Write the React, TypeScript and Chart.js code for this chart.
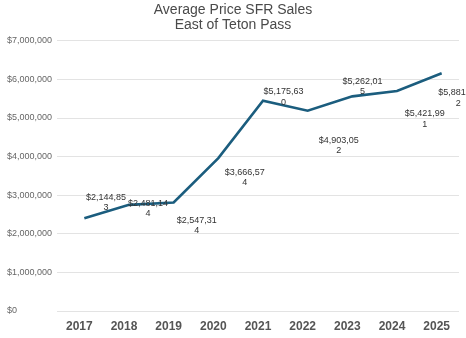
import React, { useEffect, useRef } from 'react';
import { Chart, registerables } from 'chart.js';

Chart.register(...registerables);

// ---- data ----
const years = ['2017', '2018', '2019', '2020', '2021', '2022', '2023', '2024', '2025'];
const avgPrice = [2400000, 2750000, 2810000, 3960000, 5450000, 5190000, 5560000, 5700000, 6160000];
const labelValues = [2144853, 2481144, 2547314, 3666574, 5175630, 4903052, 5262015, 5421991, 5881962];
const titleLines = ['Average Price SFR Sales', 'East of Teton Pass'];
const yMax = 7000000;
const yStep = 1000000;

// ---- label placement (pixel offsets from each line point) ----
const labelDx = [21.7, 19, 23, 26.4, 20.6, 31, 10.2, 27.7, 16.6];
const labelDy = [-20.8, -1.7, 17.8, 14.2, -8.7, 29.7, -14.7, 23, 19.5];
const LINE_SHIFT = 5;
const FONT = '"Liberation Sans", Arial, sans-serif';

const fmt = (v: number) => '$' + Math.round(v).toLocaleString('en-US');

const shiftPlugin = {
  id: 'lineShift',
  beforeDatasetsDraw(chart: any) {
    chart.ctx.save();
    chart.ctx.translate(LINE_SHIFT, 0);
  },
  afterDatasetsDraw(chart: any) {
    chart.ctx.restore();
  },
};

const labelPlugin = {
  id: 'valueLabels',
  afterDraw(chart: any) {
    const meta = chart.getDatasetMeta(0);
    const ctx = chart.ctx;
    ctx.save();
    ctx.font = `9px ${FONT}`;
    ctx.fillStyle = '#333333';
    ctx.textAlign = 'center';
    ctx.textBaseline = 'middle';
    labelValues.forEach((v, i) => {
      const pt = meta.data[i];
      if (!pt) return;
      const s = fmt(v);
      const x = pt.x + LINE_SHIFT + labelDx[i];
      const y = pt.y + labelDy[i];
      ctx.fillText(s.slice(0, 9), x, y);
      if (s.length > 9) ctx.fillText(s.slice(9), x, y + 10.3);
    });
    ctx.restore();
  },
};

export default function App() {
  const ref = useRef<HTMLCanvasElement>(null);

  useEffect(() => {
    if (!ref.current) return;
    const chart = new Chart(ref.current, {
      type: 'line',
      data: {
        labels: years,
        datasets: [
          {
            data: avgPrice,
            borderColor: '#1b5d7e',
            borderWidth: 2.6,
            pointRadius: 0,
            tension: 0,
            fill: false,
          },
        ],
      },
      options: {
        responsive: false,
        animation: false,
        layout: { padding: { left: 7, right: 7, top: 0, bottom: 0 } },
        plugins: {
          legend: { display: false },
          tooltip: { enabled: false },
          title: {
            display: true,
            text: titleLines,
            color: '#4a4a4a',
            font: { family: FONT, size: 14, weight: 'normal', lineHeight: 1.1 },
            padding: { top: 2, bottom: 8 },
          },
        },
        scales: {
          x: {
            offset: true,
            grid: { display: false },
            border: { display: false },
            ticks: {
              color: '#555555',
              font: { family: FONT, size: 12, weight: 'bold' },
              padding: 0,
              maxRotation: 0,
            },
            afterFit: (s: any) => {
              s.height = 27;
            },
          },
          y: {
            min: 0,
            max: yMax,
            grid: { color: '#e3e3e3', drawTicks: false, lineWidth: 1 },
            border: { display: false },
            ticks: {
              stepSize: yStep,
              crossAlign: 'far',
              color: '#666666',
              font: { family: FONT, size: 9 },
              callback: (v: any) => fmt(Number(v)),
            },
            afterFit: (s: any) => {
              s.width = 50;
            },
          },
        },
      },
      plugins: [shiftPlugin, labelPlugin],
    } as any);
    return () => chart.destroy();
  }, []);

  return (
    <div style={{ position: 'absolute', left: 0, top: 0, width: 466, height: 338, background: '#fff' }}>
      <canvas ref={ref} width={466} height={338} />
    </div>
  );
}
